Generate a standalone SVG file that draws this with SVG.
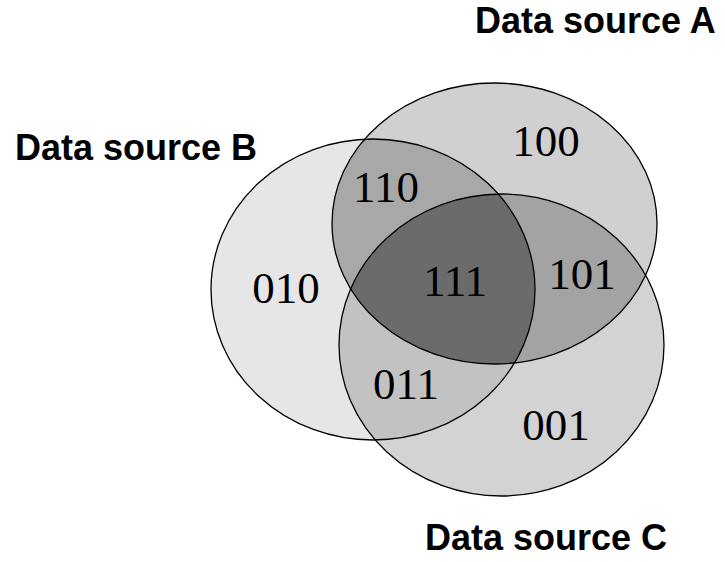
<svg xmlns="http://www.w3.org/2000/svg" width="725" height="562" viewBox="0 0 725 562">
<style>
.lbl{font-family:"Liberation Sans",Arial,sans-serif;font-weight:bold;font-size:36px;fill:#000}
.num{font-family:"Liberation Serif","Times New Roman",serif;font-size:45px;fill:#000;text-anchor:middle}
.edge{fill:none;stroke:#000;stroke-width:1.3}
</style>
<defs>
<ellipse id="eA" cx="494.5" cy="223.5" rx="162.5" ry="140.5"/>
<ellipse id="eB" cx="373" cy="289.5" rx="162" ry="150.5"/>
<ellipse id="eC" cx="501.5" cy="345" rx="162.5" ry="151"/>
<clipPath id="clipA"><use href="#eA"/></clipPath>
<clipPath id="clipB"><use href="#eB"/></clipPath>
<clipPath id="clipC"><use href="#eC"/></clipPath>
</defs>
<rect width="725" height="562" fill="#fff"/>
<g id="fills">
<use href="#eB" fill="#e6e6e6"/>
<use href="#eA" fill="#d0d0d0"/>
<use href="#eC" fill="#d3d3d3"/>
<use href="#eA" fill="#a8a8a8" clip-path="url(#clipB)"/>
<use href="#eA" fill="#a3a3a3" clip-path="url(#clipC)"/>
<use href="#eB" fill="#c2c2c2" clip-path="url(#clipC)"/>
<g clip-path="url(#clipC)"><use href="#eA" fill="#6b6b6b" clip-path="url(#clipB)"/></g>
</g>
<g id="setA"><use href="#eA" class="edge"/><text class="lbl" x="475" y="33">Data source A</text></g>
<g id="setB"><use href="#eB" class="edge"/><text class="lbl" x="15" y="160">Data source B</text></g>
<g id="setC"><use href="#eC" class="edge"/><text class="lbl" x="425" y="550">Data source C</text></g>
<g id="regions">
<text class="num" x="546" y="156">100</text>
<text class="num" x="386" y="202">110</text>
<text class="num" x="455" y="296">111</text>
<text class="num" x="582" y="289">101</text>
<text class="num" x="286" y="303">010</text>
<text class="num" x="406" y="399">011</text>
<text class="num" x="556" y="440">001</text>
</g>
<g id="connectors"/>
</svg>
